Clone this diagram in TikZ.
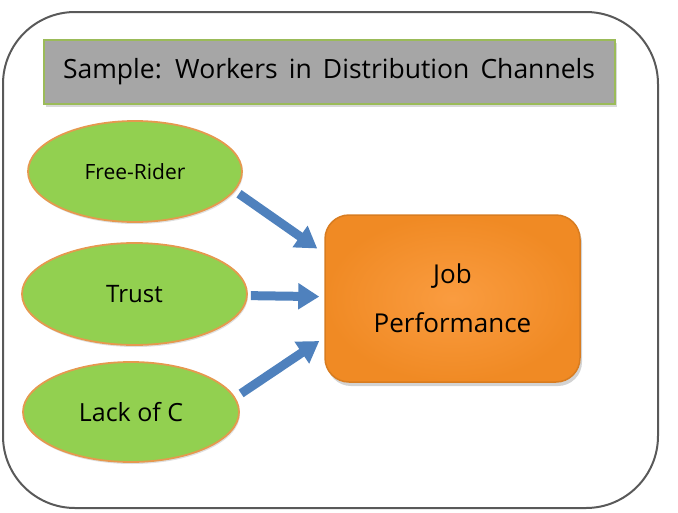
\documentclass[tikz,border=0pt]{standalone}
\usepackage{fontspec}
\setmainfont{Open Sans}
\usetikzlibrary{shapes.geometric,arrows.meta,shadows,calc}
\definecolor{framegray}{HTML}{595959}
\definecolor{titlegray}{HTML}{A6A6A6}
\definecolor{titlegreen}{HTML}{9BBB59}
\definecolor{leafgreen}{HTML}{92D050}
\definecolor{rimorange}{HTML}{E5994F}
\definecolor{boxorange}{HTML}{FA9C40}
\definecolor{boxorangedark}{HTML}{F08A24}
\definecolor{flowblue}{HTML}{4F81BD}
\newcommand\widewords{\spaceskip=0.42em plus 0.1em\relax}
\tikzset{
  factor/.style={ellipse,draw=rimorange,line width=1.8pt,fill=leafgreen,
    drop shadow={shadow xshift=1pt,shadow yshift=-2pt,opacity=0.25},inner sep=0pt},
  flow/.style={draw=flowblue,line width=9pt,
    -{Triangle[width=25pt,length=21pt]}},
}
\begin{document}
\begin{tikzpicture}[x=1pt,y=-1pt]
  \useasboundingbox (0,0) rectangle (678,512);
  % frame
  \draw[framegray,line width=2pt,rounded corners=72pt] (3,12) rectangle (658,508);
  % title
  \node[draw=titlegreen,line width=2pt,fill=titlegray,minimum width=571pt,minimum height=64pt,
    drop shadow={shadow xshift=2pt,shadow yshift=-3pt,opacity=0.3},
    font=\fontsize{26.5}{30}\selectfont]
    (title) at (329,71.5) {\widewords Sample: Workers in Distribution Channels};
  % factors
  \node[factor,minimum width=214pt,minimum height=101pt,font=\fontsize{21}{24}\selectfont]
    (fr) at (135,171.5) {Free-Rider};
  \node[factor,minimum width=225pt,minimum height=102pt,font=\fontsize{24}{28}\selectfont]
    (tr) at (134.5,294) {Trust};
  \node[factor,minimum width=216pt,minimum height=100pt,font=\fontsize{25}{28}\selectfont]
    (lc) at (131,412) {Lack of C};
  % outcome
  \node[draw=boxorangedark!90!black,line width=1.5pt,rounded corners=24pt,minimum width=255pt,minimum height=167pt,
    inner color=boxorange,outer color=boxorangedark,align=center,
    drop shadow={shadow xshift=2pt,shadow yshift=-4pt,opacity=0.35},
    font=\fontsize{26}{49}\selectfont] (job) at (452.5,298.5) {Job\\Performance};
  \coordinate (tipA) at ($(job.west)+(-7,-50)$);
  \coordinate (tipC) at ($(job.west)+(-5,42.5)$);
  % arrows
  \draw[flow,shorten <=5pt] (fr.-11) -- (tipA);
  \draw[flow,shorten <=3pt,shorten >=5pt] (tr) -- (job);
  \draw[flow,shorten <=7pt] (lc.8) -- (tipC);
\end{tikzpicture}
\end{document}
